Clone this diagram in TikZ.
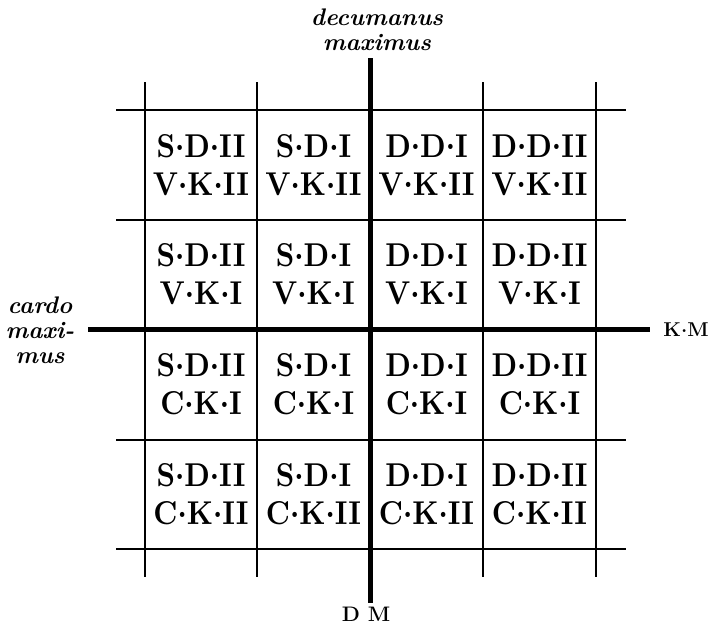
\documentclass[tikz,border=0pt]{standalone}
\usepackage{fontspec}
\newfontfamily\cellfont{lmroman10-regular.otf}[BoldFont=lmroman10-bold.otf, FakeStretch=0.88]
% raised full stop used as the separating dot
\newcommand\md{\raisebox{0.22em}{.}}
\tikzset{
  thinline/.style={line width=1.3pt},
  thickline/.style={line width=5pt},
  cell/.style={align=center, inner sep=0pt, font=\cellfont\fontsize{33}{38}\selectfont\bfseries},
  streetlabel/.style={align=center, inner sep=0pt, font=\fontsize{24}{25}\selectfont\bfseries\itshape},
  endlabel/.style={inner sep=0pt, font=\fontsize{20}{22}\selectfont\bfseries}
}
\begin{document}
\begin{tikzpicture}[x=1pt,y=-1pt]
\useasboundingbox (0,0) rectangle (711,630);
% grid of the surveyed plots
\foreach \yy in {110,220,440,549} \draw[thinline] (116,\yy) -- (626,\yy);
\foreach \xx in {145,257,483,596} \draw[thinline] (\xx,82) -- (\xx,577);
% the two main roads
\draw[thickline] (370,58) -- (370,603);
\draw[thickline] (88,329) -- (650,329);
% labels of the roads
\node[streetlabel] (dm) at (377,30) {decumanus\\maximus};
\node[streetlabel] (cm) at (40,330) {cardo\\maxi-\\mus};
\node[endlabel] (km) at (686,330) {K\md M};
\node[endlabel, font=\fontsize{21}{22}\selectfont\bfseries] (dmend) at (366,614) {D M};
% plot labels
\node[cell] (c11) at (201,165) {S\md D\md II\\V\md K\md II};
\node[cell] (c12) at (313.5,165) {S\md D\md I\\V\md K\md II};
\node[cell] (c13) at (426.5,165) {D\md D\md I\\V\md K\md II};
\node[cell] (c14) at (539.5,165) {D\md D\md II\\V\md K\md II};
\node[cell] (c21) at (201,274.5) {S\md D\md II\\V\md K\md I};
\node[cell] (c22) at (313.5,274.5) {S\md D\md I\\V\md K\md I};
\node[cell] (c23) at (426.5,274.5) {D\md D\md I\\V\md K\md I};
\node[cell] (c24) at (539.5,274.5) {D\md D\md II\\V\md K\md I};
\node[cell] (c31) at (201,384.5) {S\md D\md II\\C\md K\md I};
\node[cell] (c32) at (313.5,384.5) {S\md D\md I\\C\md K\md I};
\node[cell] (c33) at (426.5,384.5) {D\md D\md I\\C\md K\md I};
\node[cell] (c34) at (539.5,384.5) {D\md D\md II\\C\md K\md I};
\node[cell] (c41) at (201,494.5) {S\md D\md II\\C\md K\md II};
\node[cell] (c42) at (313.5,494.5) {S\md D\md I\\C\md K\md II};
\node[cell] (c43) at (426.5,494.5) {D\md D\md I\\C\md K\md II};
\node[cell] (c44) at (539.5,494.5) {D\md D\md II\\C\md K\md II};
\end{tikzpicture}
\end{document}
